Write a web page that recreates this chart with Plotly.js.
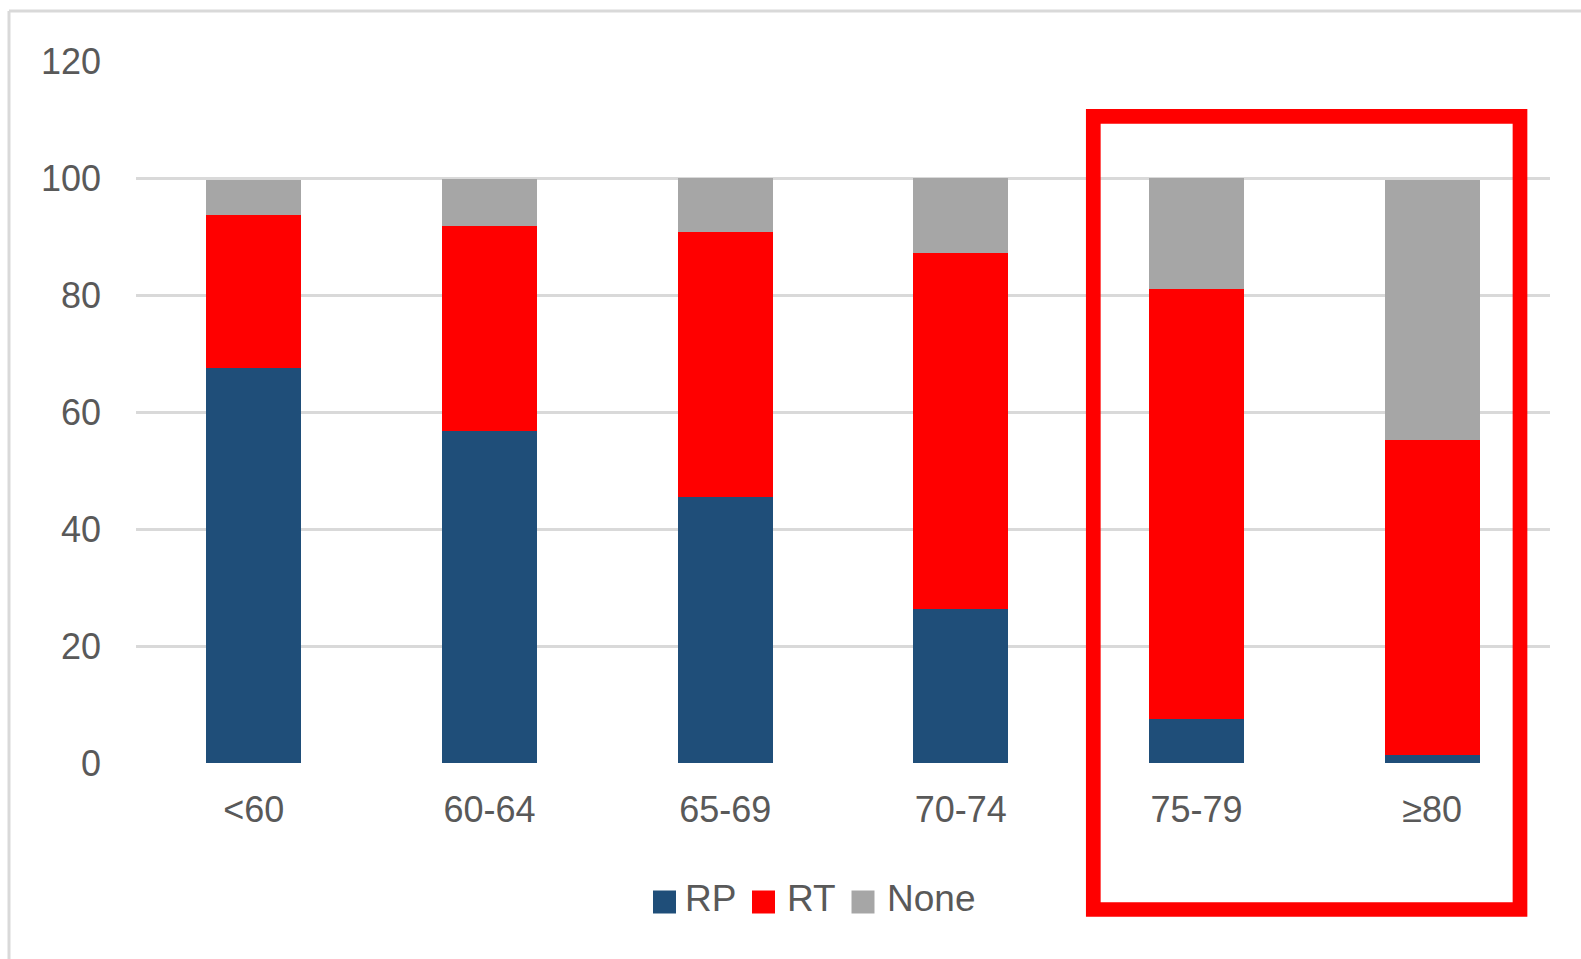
<!DOCTYPE html>
<html>
<head>
<meta charset="utf-8">
<script src="https://cdn.plot.ly/plotly-3.0.1.min.js"></script>
<style>
  html, body { margin: 0; padding: 0; background: #ffffff; }
  #chart { width: 1581px; height: 959px; }
</style>
</head>
<body>
<div id="chart"></div>
<script>
// Age groups and treatment shares (%)
const ageGroups = ['<60', '60-64', '65-69', '70-74', '75-79', '\u226580'];
const rpShare   = [67.5, 56.7, 45.4, 26.4, 7.5, 1.4];
const rtShare   = [26.2, 35.1, 45.3, 60.8, 73.6, 53.8];
const noneShare = [6.0, 8.0, 9.3, 12.8, 18.9, 44.5];

const seriesNames  = ['RP', 'RT', 'None'];
const seriesColors = ['#1f4e79', '#ff0000', '#a6a6a6'];
const yTicks = [0, 20, 40, 60, 80, 100, 120];

const W = 1581, H = 959;
const M = { l: 136, r: 31, t: 61, b: 196 };
const plotW = W - M.l - M.r, plotH = H - M.t - M.b;
// pixel position -> paper coordinates for decorations outside the data
const px = x => (x - M.l) / plotW;
const py = y => (H - M.b - y) / plotH;

const font = 'Liberation Sans, Arial, sans-serif';
const textColor = '#595959';

const seriesValues = [rpShare, rtShare, noneShare];
const traces = seriesValues.map((vals, i) => ({
  type: 'bar',
  name: seriesNames[i],
  x: ageGroups,
  y: vals,
  marker: { color: seriesColors[i] },
  hoverinfo: 'x+y+name',
  showlegend: false
}));

const shapes = [];
const annotations = [];

// frame lines along the top and left edges
shapes.push({ type: 'line', xref: 'paper', yref: 'paper',
  x0: px(9), x1: px(W), y0: py(11), y1: py(11),
  line: { color: '#d9d9d9', width: 3 } });
shapes.push({ type: 'line', xref: 'paper', yref: 'paper',
  x0: px(9), x1: px(9), y0: py(11), y1: py(H),
  line: { color: '#d9d9d9', width: 3 } });

// legend: coloured squares with labels
const legendSquares = [664.5, 763.5, 863];
const legendText    = [683, 785, 885];
seriesNames.forEach((name, i) => {
  shapes.push({ type: 'rect', xref: 'paper', yref: 'paper',
    x0: px(legendSquares[i] - 11.5), x1: px(legendSquares[i] + 11.5),
    y0: py(902 + 11.5), y1: py(902 - 11.5),
    fillcolor: seriesColors[i], line: { width: 0 } });
  annotations.push({ xref: 'paper', yref: 'paper',
    x: px(legendText[i]), y: py(898), xanchor: 'left', yanchor: 'middle',
    text: name, showarrow: false,
    font: { family: font, size: 37, color: textColor } });
});

// highlight box around the two oldest age groups
shapes.push({ type: 'rect', xref: 'paper', yref: 'paper',
  x0: px(1093.3), x1: px(1520), y0: py(909.5), y1: py(116.3),
  line: { color: '#ff0000', width: 14.7 }, fillcolor: 'rgba(0,0,0,0)',
  layer: 'above' });

const layout = {
  width: W, height: H,
  margin: M,
  paper_bgcolor: '#ffffff',
  plot_bgcolor: '#ffffff',
  barmode: 'stack',
  bargap: 0.597,
  showlegend: false,
  font: { family: font, size: 36, color: textColor },
  xaxis: {
    type: 'category',
    showgrid: false, zeroline: false, showline: false,
    ticks: '', ticklabelstandoff: 22,
    tickfont: { family: font, size: 36, color: textColor }
  },
  yaxis: {
    range: [0, 120],
    tickvals: yTicks,
    ticktext: yTicks.map(String),
    showgrid: true, gridcolor: '#d9d9d9', gridwidth: 3,
    zeroline: false, showline: false,
    ticks: '', ticklabelstandoff: 34,
    tickfont: { family: font, size: 36, color: textColor }
  },
  shapes: shapes,
  annotations: annotations
};

Plotly.newPlot('chart', traces, layout, { displayModeBar: false, staticPlot: true });
</script>
</body>
</html>
